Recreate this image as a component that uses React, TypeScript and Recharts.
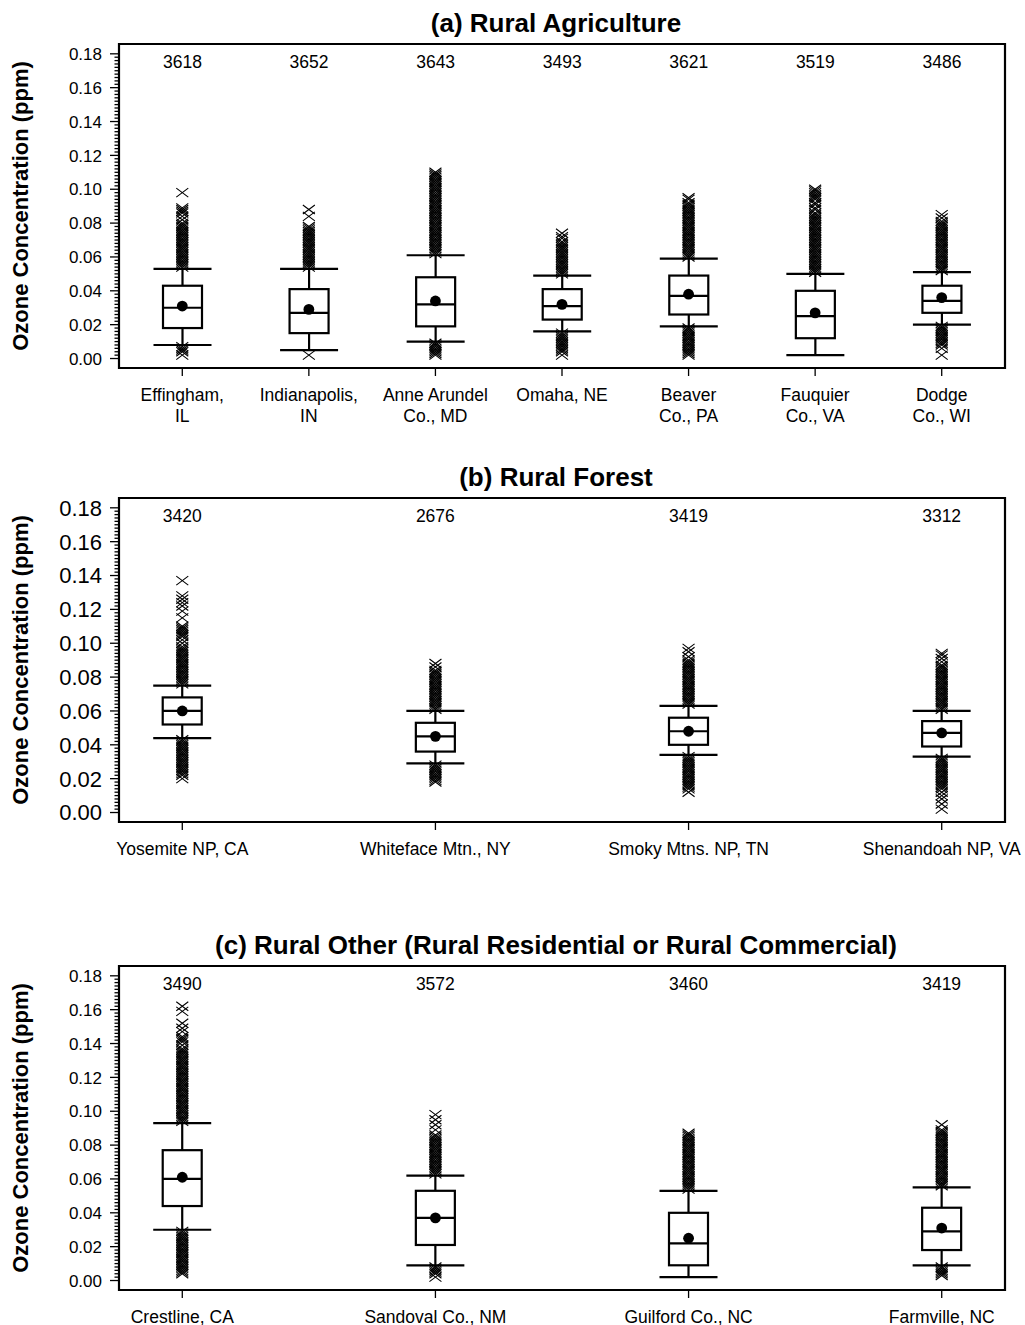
import { ComposedChart, Bar, Scatter, XAxis, YAxis, ReferenceArea } from 'recharts';

const FONT = '"Liberation Sans", Arial, Helvetica, sans-serif';

// (a) Rural Agriculture
const agSites = ['Effingham,\nIL', 'Indianapolis,\nIN', 'Anne Arundel\nCo., MD', 'Omaha, NE', 'Beaver\nCo., PA', 'Fauquier\nCo., VA', 'Dodge\nCo., WI'];
const agCounts = [3618, 3652, 3643, 3493, 3621, 3519, 3486];
const agLow = [0.008, 0.005, 0.010, 0.016, 0.019, 0.002, 0.020];
const agQ1 = [0.018, 0.015, 0.019, 0.023, 0.026, 0.012, 0.027];
const agMedian = [0.030, 0.027, 0.032, 0.031, 0.037, 0.025, 0.034];
const agQ3 = [0.043, 0.041, 0.048, 0.041, 0.049, 0.040, 0.043];
const agHigh = [0.053, 0.053, 0.061, 0.049, 0.059, 0.050, 0.051];
const agMean = [0.031, 0.029, 0.034, 0.032, 0.038, 0.027, 0.036];
// outliers, in ppb
const agOutliers = [
  [2, 4, 5, 6, 7, 54, 55, 56, 57, 58, 59, 60, 61, 62, 63, 64, 65, 66, 67, 68, 69, 70, 71, 72, 73, 74, 75, 76, 77, 78, 79, 80,
    82, 84, 86, 87, 88, 89, 98],
  [2, 54, 55, 56, 57, 58, 59, 60, 61, 62, 63, 64, 65, 66, 67, 68, 69, 70, 71, 72, 73, 74, 75, 76, 77, 78, 84, 88],
  [2, 3, 4, 5, 6, 7, 8, 9, 62, 63, 64, 65, 66, 67, 68, 69, 70, 71, 72, 73, 74, 75, 76, 77, 78, 79, 80, 81, 82, 83, 84, 85,
    86, 87, 88, 89, 90, 91, 92, 93, 94, 95, 96, 97, 98, 99, 100, 101, 102, 103, 104, 105, 106, 107, 108, 109, 110],
  [2, 4, 5, 6, 7, 8, 9, 10, 11, 12, 13, 14, 15, 50, 51, 52, 53, 54, 55, 56, 57, 58, 59, 60, 61, 62, 63, 64, 65, 66, 67, 68,
    69, 71, 72, 74],
  [2, 3, 4, 5, 6, 7, 8, 9, 10, 11, 12, 13, 14, 15, 16, 17, 18, 60, 61, 62, 63, 64, 65, 66, 67, 68, 69, 70, 71, 72, 73, 74,
    75, 76, 77, 78, 79, 80, 81, 82, 83, 84, 85, 86, 87, 88, 89, 90, 91, 92, 94, 95],
  [51, 52, 53, 54, 55, 56, 57, 58, 59, 60, 61, 62, 63, 64, 65, 66, 67, 68, 69, 70, 71, 72, 73, 74, 75, 76, 77, 78, 79, 80,
    81, 82, 83, 84, 85, 86, 88, 89, 91, 92, 94, 95, 96, 97, 98, 99, 100],
  [2, 6, 8, 9, 10, 11, 12, 13, 14, 15, 16, 17, 18, 19, 52, 53, 54, 55, 56, 57, 58, 59, 60, 61, 62, 63, 64, 65, 66, 67, 68,
    69, 70, 71, 72, 73, 74, 75, 76, 77, 78, 79, 80, 81, 83, 85],
];

// (b) Rural Forest
const foSites = ['Yosemite NP, CA', 'Whiteface Mtn., NY', 'Smoky Mtns. NP, TN', 'Shenandoah NP, VA'];
const foCounts = [3420, 2676, 3419, 3312];
const foLow = [0.044, 0.029, 0.034, 0.033];
const foQ1 = [0.052, 0.036, 0.040, 0.039];
const foMedian = [0.060, 0.045, 0.048, 0.047];
const foQ3 = [0.068, 0.053, 0.056, 0.054];
const foHigh = [0.075, 0.060, 0.063, 0.060];
const foMean = [0.060, 0.045, 0.048, 0.047];
const foOutliers = [
  [20, 22, 23, 24, 25, 26, 27, 28, 29, 30, 31, 32, 33, 34, 35, 36, 37, 38, 39, 40, 41, 42, 43, 76, 77, 78, 79, 80, 81, 82,
    83, 84, 85, 86, 87, 88, 89, 90, 91, 92, 93, 94, 95, 96, 97, 98, 100, 102, 104, 105, 106, 107, 108, 109, 110, 115, 119,
    122, 124, 126, 128, 137],
  [18, 19, 20, 21, 22, 23, 24, 25, 26, 27, 28, 61, 62, 63, 64, 65, 66, 67, 68, 69, 70, 71, 72, 73, 74, 75, 76, 77, 78, 79,
    80, 81, 82, 83, 84, 86, 88],
  [12, 14, 15, 16, 17, 18, 19, 20, 21, 22, 23, 24, 25, 26, 27, 28, 29, 30, 31, 32, 33, 64, 65, 66, 67, 68, 69, 70, 71, 72,
    73, 74, 75, 76, 77, 78, 79, 80, 81, 82, 83, 84, 85, 86, 87, 88, 89, 90, 92, 95, 97],
  [2, 5, 8, 10, 12, 14, 15, 16, 17, 18, 19, 20, 21, 22, 23, 24, 25, 26, 27, 28, 29, 30, 31, 32, 61, 62, 63, 64, 65, 66, 67,
    68, 69, 70, 71, 72, 73, 74, 75, 76, 77, 78, 79, 80, 81, 82, 83, 84, 85, 86, 87, 89, 91, 93, 94],
];

// (c) Rural Other
const otSites = ['Crestline, CA', 'Sandoval Co., NM', 'Guilford Co., NC', 'Farmville, NC'];
const otCounts = [3490, 3572, 3460, 3419];
const otLow = [0.030, 0.009, 0.002, 0.009];
const otQ1 = [0.044, 0.021, 0.009, 0.018];
const otMedian = [0.060, 0.037, 0.022, 0.029];
const otQ3 = [0.077, 0.053, 0.040, 0.043];
const otHigh = [0.093, 0.062, 0.053, 0.055];
const otMean = [0.061, 0.037, 0.025, 0.031];
const otOutliers = [
  [4, 5, 6, 7, 8, 9, 10, 11, 12, 13, 14, 15, 16, 17, 18, 19, 20, 21, 22, 23, 24, 25, 26, 27, 28, 29, 94, 95, 96, 97, 98,
    99, 100, 101, 102, 103, 104, 105, 106, 107, 108, 109, 110, 111, 112, 113, 114, 115, 116, 117, 118, 119, 120, 121, 122,
    123, 124, 125, 126, 127, 128, 129, 130, 131, 132, 133, 134, 135, 136, 137, 139, 141, 142, 143, 144, 147, 149, 152,
    159, 162],
  [2, 4, 5, 6, 7, 8, 63, 64, 65, 66, 67, 68, 69, 70, 71, 72, 73, 74, 75, 76, 77, 78, 79, 80, 81, 82, 83, 84, 85, 86, 89,
    92, 95, 98],
  [54, 55, 56, 57, 58, 59, 60, 61, 62, 63, 64, 65, 66, 67, 68, 69, 70, 71, 72, 73, 74, 75, 76, 77, 78, 79, 80, 81, 82, 83,
    84, 85, 86, 87],
  [3, 4, 5, 6, 7, 8, 56, 57, 58, 59, 60, 61, 62, 63, 64, 65, 66, 67, 68, 69, 70, 71, 72, 73, 74, 75, 76, 77, 78, 79, 80,
    81, 82, 83, 84, 85, 86, 87, 88, 89, 92],
];

const Y_DOMAIN: [number, number] = [-0.0056, 0.1858];
const X_DOMAIN: [number, number] = [0.5, 7.5];
const Y_TICKS: number[] = [];
for (let i = 0; i <= 90; i++) Y_TICKS.push(Math.round(i * 2) / 1000);

const BOX_W = 39;
const CAP_W = 58;

type Row = {
  slot: number; site: string; n: number;
  low: number; q1: number; median: number; q3: number; high: number; mean: number;
};

function buildRows(sites: string[], n: number[], low: number[], q1: number[], med: number[], q3: number[],
  high: number[], mean: number[], step: number): Row[] {
  return sites.map((site, i) => ({
    slot: 1 + i * step, site, n: n[i], low: low[i], q1: q1[i], median: med[i], q3: q3[i], high: high[i], mean: mean[i],
  }));
}

function buildOutliers(lists: number[][], step: number) {
  const pts: { slot: number; v: number }[] = [];
  lists.forEach((list, i) => list.forEach((ppb) => pts.push({ slot: 1 + i * step, v: ppb / 1000 })));
  return pts;
}

const BoxShape = (props: any) => {
  const { x, y, width, height, payload, background } = props;
  const p = payload as Row;
  if (x == null || y == null || !height) return null;
  const k = height / (p.q3 - p.q1);
  const yOf = (v: number) => y + (p.q3 - v) * k;
  const cx = x + width / 2;
  const top = background && background.y != null ? background.y : 44;
  return (
    <g>
      <text x={cx} y={top + 24} textAnchor="middle" fontSize={17.5} fontFamily={FONT} fill="#000">{p.n}</text>
      <line x1={cx} x2={cx} y1={yOf(p.high)} y2={yOf(p.low)} stroke="#000" strokeWidth={2.2} />
      <line x1={cx - CAP_W / 2} x2={cx + CAP_W / 2} y1={yOf(p.high)} y2={yOf(p.high)} stroke="#000" strokeWidth={2.2} />
      <line x1={cx - CAP_W / 2} x2={cx + CAP_W / 2} y1={yOf(p.low)} y2={yOf(p.low)} stroke="#000" strokeWidth={2.2} />
      <rect x={x} y={y} width={width} height={height} fill="#fff" stroke="#000" strokeWidth={2.2} />
    </g>
  );
};

const MedianShape = (props: any) => {
  const { cx, cy } = props;
  if (cx == null) return null;
  return <line x1={cx - BOX_W / 2} x2={cx + BOX_W / 2} y1={cy} y2={cy} stroke="#000" strokeWidth={2.2} />;
};

const MeanShape = (props: any) => {
  const { cx, cy } = props;
  if (cx == null) return null;
  return <circle cx={cx} cy={cy} r={5.4} fill="#000" />;
};

const CrossShape = (props: any) => {
  const { cx, cy } = props;
  if (cx == null) return null;
  return (
    <path
      d={`M${cx - 6},${cy - 4.5}L${cx + 6},${cy + 4.5}M${cx - 6},${cy + 4.5}L${cx + 6},${cy - 4.5}`}
      stroke="#000" strokeWidth={1.1} fill="none"
    />
  );
};

const YTick = (props: any) => {
  const { x, y, payload, fs } = props;
  const v = payload.value as number;
  const major = Math.round(v * 1000) % 20 === 0;
  return (
    <g>
      <line x1={x - (major ? 9 : 4.5)} x2={x} y1={y} y2={y} stroke="#000" strokeWidth={1.3} />
      {major && (
        <text x={x - 17} y={y + fs * 0.36} textAnchor="end" fontSize={fs} fontFamily={FONT} fill="#000">
          {v.toFixed(2)}
        </text>
      )}
    </g>
  );
};

const XTick = (props: any) => {
  const { x, y, payload, labels } = props;
  const label: string = labels.get(payload.value) || '';
  return (
    <g>
      <line x1={x} x2={x} y1={y} y2={y + 8} stroke="#000" strokeWidth={1.3} />
      {label.split('\n').map((t, i) => (
        <text key={i} x={x} y={y + 33 + i * 21} textAnchor="middle" fontSize={17.5} fontFamily={FONT} fill="#000">{t}</text>
      ))}
    </g>
  );
};

function Panel({ top, title, rows, outliers, tickFont }: {
  top: number; title: string; rows: Row[]; outliers: { slot: number; v: number }[]; tickFont: number;
}) {
  const labels = new Map(rows.map((r) => [r.slot, r.site]));
  return (
    <>
      <div style={{
        position: 'absolute', left: 0, top: top + 7, width: 1112, height: 32, lineHeight: '32px',
        textAlign: 'center', fontSize: 26, fontWeight: 'bold', whiteSpace: 'nowrap',
      }}>{title}</div>
      <div style={{
        position: 'absolute', left: 21 - 200, top: top + 206 - 15, width: 400, height: 30, lineHeight: '30px',
        textAlign: 'center', fontSize: 22, fontWeight: 'bold', transform: 'rotate(-90deg)', whiteSpace: 'nowrap',
      }}>Ozone Concentration (ppm)</div>
      <div style={{ position: 'absolute', left: 0, top }}>
        <ComposedChart width={1025} height={440} data={rows} margin={{ top: 44, right: 20, bottom: 12, left: 0 }}>
          <XAxis
            dataKey="slot" type="number" domain={X_DOMAIN} allowDataOverflow ticks={rows.map((r) => r.slot)}
            interval={0} height={60} axisLine={false} tickLine={false} tickSize={0} tickMargin={0}
            tick={(p: any) => <XTick {...p} labels={labels} />}
          />
          <YAxis
            type="number" domain={Y_DOMAIN} allowDataOverflow ticks={Y_TICKS} interval={0} width={119}
            axisLine={false} tickLine={false} tickSize={0} tickMargin={0}
            tick={(p: any) => <YTick {...p} fs={tickFont} />}
          />
          <ReferenceArea
            x1={X_DOMAIN[0]} x2={X_DOMAIN[1]} y1={Y_DOMAIN[0]} y2={Y_DOMAIN[1]}
            fill="none" fillOpacity={0} stroke="#000" strokeWidth={2.2} ifOverflow="visible"
          />
          <Bar
            dataKey={(d: Row) => [d.q1, d.q3]} barSize={BOX_W} shape={BoxShape} isAnimationActive={false}
          />
          <Scatter data={outliers} dataKey="v" shape={CrossShape} isAnimationActive={false} />
          <Scatter dataKey="median" shape={MedianShape} isAnimationActive={false} />
          <Scatter dataKey="mean" shape={MeanShape} isAnimationActive={false} />
        </ComposedChart>
      </div>
    </>
  );
}

export default function App() {
  const agRows = buildRows(agSites, agCounts, agLow, agQ1, agMedian, agQ3, agHigh, agMean, 1);
  const foRows = buildRows(foSites, foCounts, foLow, foQ1, foMedian, foQ3, foHigh, foMean, 2);
  const otRows = buildRows(otSites, otCounts, otLow, otQ1, otMedian, otQ3, otHigh, otMean, 2);
  return (
    <div style={{
      position: 'absolute', left: 0, top: 0, width: 1025, height: 1325, background: '#fff', fontFamily: FONT, color: '#000',
    }}>
      <Panel top={0} title="(a) Rural Agriculture" rows={agRows} outliers={buildOutliers(agOutliers, 1)} tickFont={17} />
      <Panel top={454} title="(b) Rural Forest" rows={foRows} outliers={buildOutliers(foOutliers, 2)} tickFont={22} />
      <Panel
        top={922} title="(c) Rural Other (Rural Residential or Rural Commercial)" rows={otRows}
        outliers={buildOutliers(otOutliers, 2)} tickFont={17}
      />
    </div>
  );
}
